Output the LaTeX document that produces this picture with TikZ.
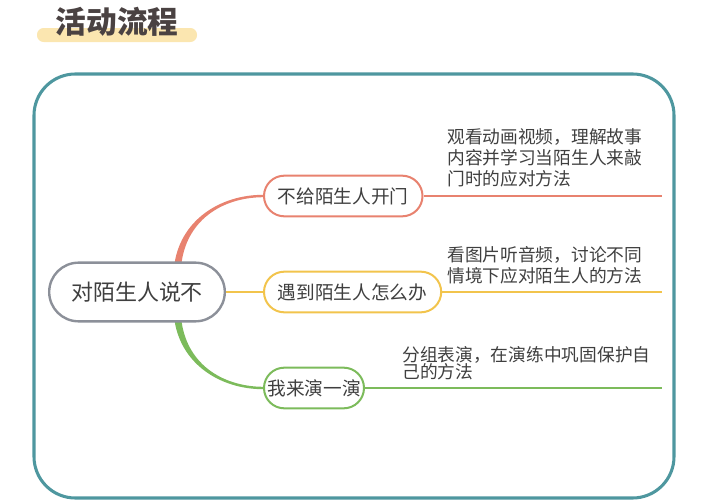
\documentclass[tikz,border=0pt]{standalone}
\usepackage{fontspec}
\setmainfont{Noto Sans CJK SC}
\usetikzlibrary{positioning,shapes.misc,calc,backgrounds}

\definecolor{framec}{HTML}{4E979F}
\definecolor{titlec}{HTML}{4A4242}
\definecolor{barc}{HTML}{FBE6B0}
\definecolor{rootc}{HTML}{8C9099}
\definecolor{redc}{HTML}{E8826F}
\definecolor{yelc}{HTML}{F2C44C}
\definecolor{grnc}{HTML}{7CBB5B}
\definecolor{textc}{HTML}{3F3F3F}

\tikzset{
  pill/.style={rounded rectangle, draw, line width=1.5pt, fill=white, text=textc,
    font=\fontsize{14}{16}\selectfont, minimum height=30.5pt, inner xsep=9pt},
  desc/.style={anchor=south west, inner sep=0pt, align=left, text=textc,
    font=\fontsize{13.3}{15.5}\selectfont},
}

\begin{document}
\begin{tikzpicture}[x=0.75pt,y=-0.75pt]
\useasboundingbox (0,0) rectangle (719,500);

\draw[framec, line width=2.3pt, rounded corners=31pt] (34,74) rectangle (674,498);

\fill[barc, rounded corners=5pt] (37,28) rectangle (197,42);
\node[text=titlec, font=\fontsize{23}{26}\selectfont\bfseries] (title) at (117,22) {活动流程};

\node[pill, draw=rootc, line width=1.8pt, minimum height=44pt, inner xsep=15pt,
  font=\fontsize{16.5}{19}\selectfont] (root) at (137,292) {对陌生人说不};
\node[pill, draw=redc, anchor=west] (open) at (263,196) {不给陌生人开门};
\node[pill, draw=yelc, anchor=west] (meet) at (263,292) {遇到陌生人怎么办};
\node[pill, draw=grnc, anchor=west, minimum width=93pt] (act) at (263,388) {我来演一演};

\coordinate (rim) at (662,292);

\foreach \b/\c in {open/redc, meet/yelc, act/grnc} {
    \draw[\c, line width=1.4pt] (\b.east) -- (\b.east -| rim);
}

\node[desc] (opentext) at (447,187) {观看动画视频，理解故事\\内容并学习当陌生人来敲\\门时的应对方法};
\node[desc] (meettext) at (447,284) {看图片听音频，讨论不同\\情境下应对陌生人的方法};
\node[desc, font={\fontsize{13.3}{12.8}\selectfont\lineskiplimit=-3pt}] (acttext) at (402,380) {分组表演，在演练中巩固保护自\\己的方法};

\begin{pgfonlayer}{background}
\fill[redc] ($(root.north)+(37,6)$) .. controls ($(root.north)+(42,-41)$) and ($(open.west)+(-43,-1.2)$) .. ($(open.west)+(0,-1.2)$)
  -- ($(open.west)+(0,1.2)$) .. controls ($(open.west)+(-41,1.5)$) and ($(root.north)+(48,-41)$) .. ($(root.north)+(44,6)$) -- cycle;
\fill[grnc] ($(root.south)+(37,-6)$) .. controls ($(root.south)+(42,41)$) and ($(act.west)+(-43,1.2)$) .. ($(act.west)+(0,1.2)$)
  -- ($(act.west)+(0,-1.2)$) .. controls ($(act.west)+(-41,-1.5)$) and ($(root.south)+(48,41)$) .. ($(root.south)+(44,-6)$) -- cycle;
\draw[yelc, line width=2pt] (root.east) -- (meet.west);
\end{pgfonlayer}
\end{tikzpicture}
\end{document}
